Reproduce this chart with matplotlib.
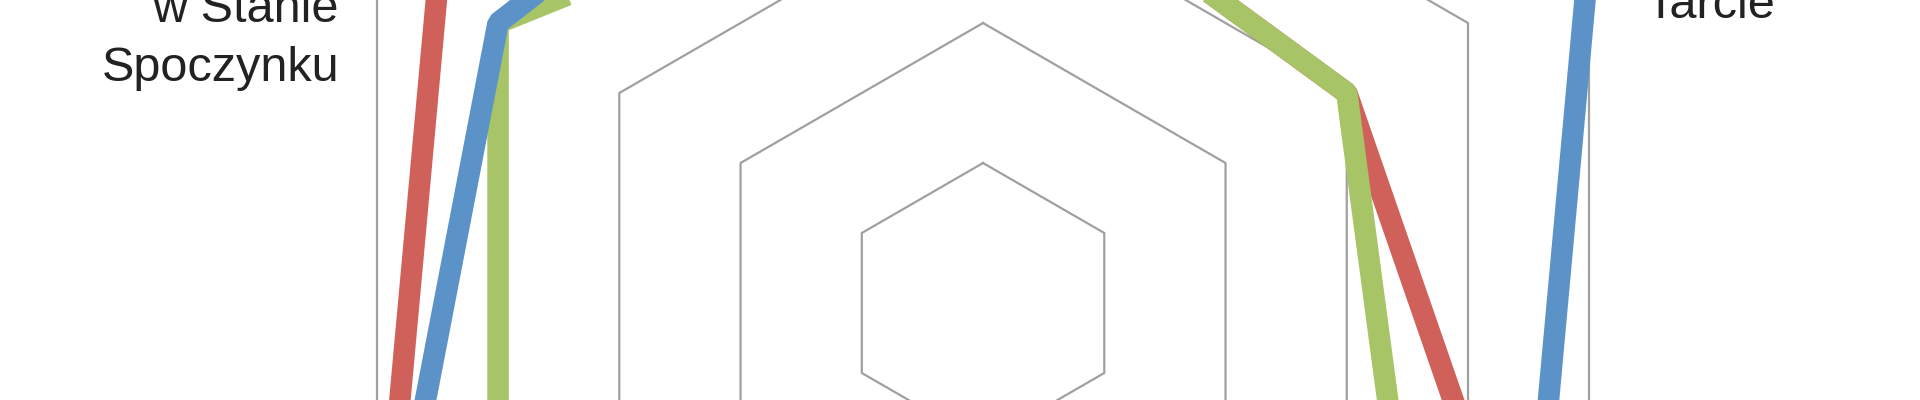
import numpy as np
import matplotlib
matplotlib.use("Agg")
import matplotlib.pyplot as plt

# axes, clockwise from the top
categories = ["", "Tarcie", "", "", "", "Tarcie\nw Stanie\nSpoczynku"]
ring_levels = [1, 2, 3, 4, 5]

series_red = [3.4, 3.0, 4.5, 4.0, 5.0, 4.5]
series_green = [3.4, 3.0, 3.5, 3.0, 4.0, 4.0]
series_blue = [4.7, 5.0, 4.5, 5.0, 5.0, 4.0]

RED = "#cf605a"
GREEN = "#a7c566"
BLUE = "#5b93c8"
GRID = "#a0a0a0"
TEXT = "#222222"

fig = plt.figure(figsize=(19.2, 4.0), dpi=100)
fig.patch.set_facecolor("white")

# the radar is much bigger than the figure; only a band of it shows
ax = fig.add_axes([0.1474, -1.5075, 0.7292, 3.5], projection="polar")
ax.set_theta_offset(np.pi / 2)
ax.set_theta_direction(-1)
ax.set_ylim(0, max(ring_levels))
ax.set_facecolor("none")
ax.grid(False)
ax.set_xticks([])
ax.set_yticks([])
ax.spines["polar"].set_visible(False)

n = len(categories)
theta = np.linspace(0, 2 * np.pi, n, endpoint=False)
theta_closed = np.append(theta, theta[0])

for lvl in ring_levels:
    ax.plot(theta_closed, [lvl] * (n + 1), color=GRID, lw=1.6,
            clip_on=False, zorder=1)

for vals, col, z in [(series_red, RED, 2), (series_green, GREEN, 3),
                     (series_blue, BLUE, 4)]:
    ax.plot(theta_closed, vals + vals[:1], color=col, lw=15.5,
            solid_joinstyle="bevel", clip_on=False, zorder=z)

font = ["Liberation Sans", "DejaVu Sans"]
# multi-line baseline alignment goes by the last line here
fig.text(339 / 1920, 1 - 81 / 400, categories[5], ha="right", va="baseline",
         fontsize=35, family=font, color=TEXT, linespacing=1.4)
fig.text(1646 / 1920, 1 - 18 / 400, categories[1], ha="left", va="baseline",
         fontsize=35, family=font, color=TEXT)

fig.savefig("out.png", dpi=100, facecolor="white")
